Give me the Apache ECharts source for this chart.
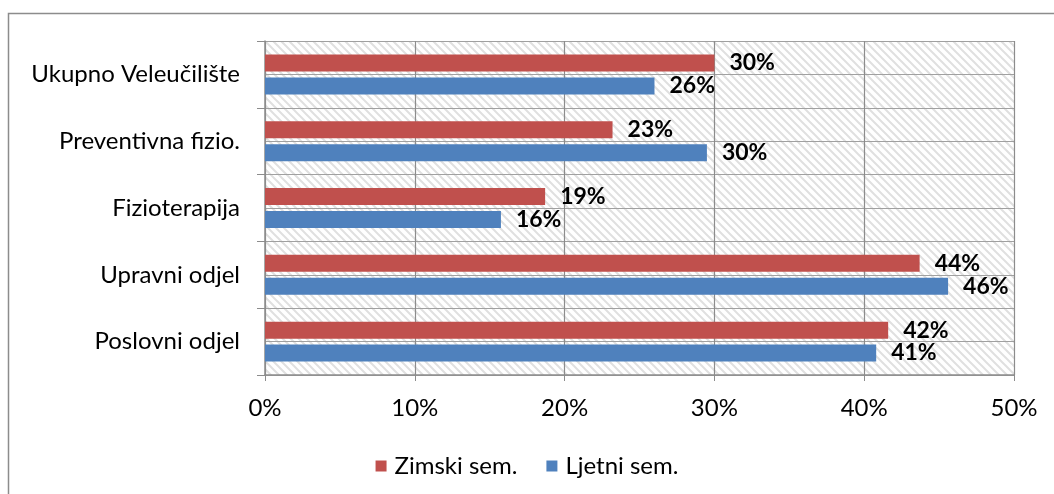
<!DOCTYPE html>
<html>
<head>
<meta charset="utf-8">
<script src="https://cdn.jsdelivr.net/npm/echarts@6/dist/echarts.min.js"></script>
<style>
  html, body { margin: 0; padding: 0; background: #fff; }
  #chart { width: 1054px; height: 494px; }
</style>
</head>
<body>
<div id="chart"></div>
<script>
// podaci (bottom -> top)
const categories = ['Poslovni odjel', 'Upravni odjel', 'Fizioterapija', 'Preventivna fizio.', 'Ukupno Veleučilište'];
const zimski = [41.6, 43.7, 18.7, 23.2, 30.0];
const ljetni = [40.8, 45.6, 15.75, 29.5, 26.0];
const seriesNames = ['Zimski sem.', 'Ljetni sem.'];
const xTicks = { min: 0, max: 50, step: 10 };

// hatch pattern za pozadinu
function hatch() {
    const c = document.createElement('canvas');
    c.width = 8; c.height = 8;
    const ctx = c.getContext('2d');
    ctx.strokeStyle = '#e0e0e0';
    ctx.lineWidth = 2;
    ctx.beginPath();
    ctx.moveTo(-2, -2); ctx.lineTo(10, 10);
    ctx.moveTo(-10, -2); ctx.lineTo(2, 10);
    ctx.moveTo(6, -2); ctx.lineTo(18, 10);
    ctx.stroke();
    return c;
}

const chart = echarts.init(document.getElementById('chart'));
const font = 'Lato';
const grey = '#8c8c8c';
const label = {
    show: true,
    position: 'right',
    distance: 15,
    fontFamily: font,
    fontSize: 23,
    fontWeight: 'bold',
    color: '#000',
    formatter: p => Math.round(p.value) + '%'
};

chart.setOption({
    animation: false,
    textStyle: { fontFamily: font },
    graphic: [{
        type: 'polyline',
        shape: { points: [[8.5, 494], [8.5, 13.5], [1054, 13.5]] },
        style: { stroke: '#8c8c8c', lineWidth: 1.5, fill: null }
    }],
    grid: {
        left: 265, right: 40, top: 41, bottom: 119,
        show: true,
        borderWidth: 0,
        backgroundColor: { image: hatch(), repeat: 'repeat' }
    },
    legend: {
        data: seriesNames,
        top: 449,
        left: 'center',
        icon: 'rect',
        itemWidth: 11,
        itemHeight: 11,
        itemGap: 29,
        textStyle: { fontFamily: font, fontSize: 24, color: '#000', padding: [0, 0, 0, 3] }
    },
    xAxis: {
        type: 'value',
        min: xTicks.min,
        max: xTicks.max,
        interval: xTicks.step,
        axisLine: { show: true, lineStyle: { color: grey, width: 1.5 } },
        axisTick: { show: true, length: 6, lineStyle: { color: grey } },
        axisLabel: { formatter: '{value}%', fontFamily: font, fontSize: 24, color: '#000', margin: 21 },
        splitLine: { show: true, lineStyle: { color: grey, width: 1.2 } }
    },
    yAxis: [{
        type: 'category',
        data: categories,
        axisLine: { show: true, lineStyle: { color: grey, width: 1.5 } },
        axisTick: { show: true, length: 8, interval: 0, lineStyle: { color: grey } },
        axisLabel: { fontFamily: font, fontSize: 24, color: '#000', margin: 25 },
        splitLine: { show: false }
    }, {
        type: 'value',
        min: 0, max: 10, interval: 1,
        position: 'right',
        axisLine: { show: false },
        axisTick: { show: false },
        axisLabel: { show: false },
        splitLine: { show: true, lineStyle: { color: '#a0a0a0', width: 1.2 } }
    }],
    series: [{
        name: seriesNames[0],
        type: 'bar',
        data: zimski,
        barWidth: 17,
        barGap: '35%',
        itemStyle: { color: '#C0504D' },
        label: label
    }, {
        name: seriesNames[1],
        type: 'bar',
        data: ljetni,
        barWidth: 17,
        barGap: '35%',
        itemStyle: { color: '#4F81BD' },
        label: label
    }]
});
</script>
</body>
</html>
